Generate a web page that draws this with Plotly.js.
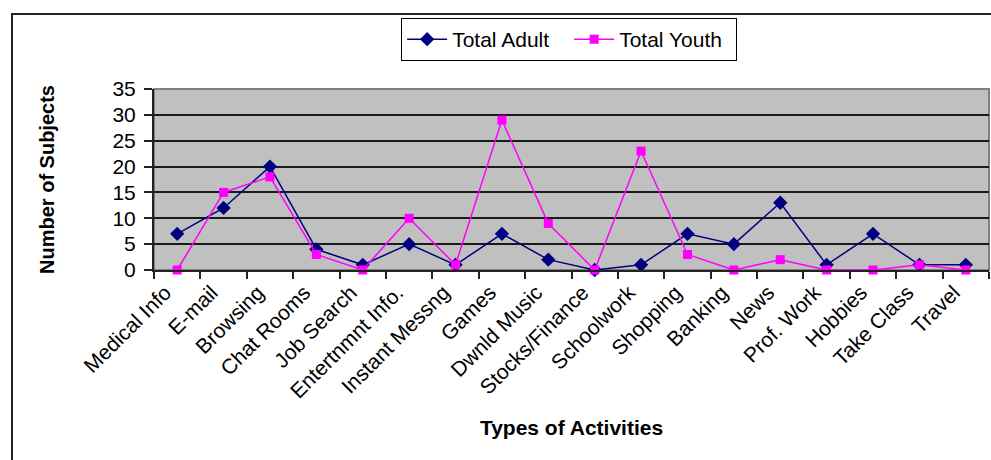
<!DOCTYPE html>
<html>
<head>
<meta charset="utf-8">
<script src="https://cdn.plot.ly/plotly-3.0.1.min.js"></script>
<style>
  html, body { margin:0; padding:0; background:#fff; }
  #wrap { position:relative; width:991px; height:460px; overflow:hidden; }
  #chart { position:absolute; left:0; top:0; width:991px; height:460px; }
  #frame { position:absolute; left:11px; top:13px; width:1000px; height:500px;
           border-left:2px solid #222; border-top:2px solid #222; pointer-events:none; }
</style>
</head>
<body>
<div id="wrap">
  <div id="chart"></div>
  <div id="frame"></div>
</div>
<script>
const categories = ["Medical Info","E-mail","Browsing","Chat Rooms","Job Search","Entertnmnt Info.",
  "Instant Messng","Games","Dwnld Music","Stocks/Finance","Schoolwork","Shopping","Banking",
  "News","Prof. Work","Hobbies","Take Class","Travel"];
const totalAdult = [7,12,20,4,1,5,1,7,2,0,1,7,5,13,1,7,1,1];
const totalYouth = [0,15,18,3,0,10,1,29,9,0,23,3,0,2,0,0,1,0];
const yTicks = [0,5,10,15,20,25,30,35];

const font = "Liberation Sans, Arial, sans-serif";

const traces = [
  { x: categories, y: totalAdult, name: "Total Adult", type: "scatter", mode: "lines+markers",
    line: { color: "#000080", width: 1.5 },
    marker: { symbol: "diamond", size: 11, color: "#000080" }, cliponaxis: false },
  { x: categories, y: totalYouth, name: "Total Youth", type: "scatter", mode: "lines+markers",
    line: { color: "#FF00FF", width: 1.5 },
    marker: { symbol: "square", size: 9, color: "#FF00FF" }, cliponaxis: false }
];

const layout = {
  width: 991, height: 460,
  margin: { l: 154, r: 2, t: 89, b: 190 },
  paper_bgcolor: "#ffffff",
  plot_bgcolor: "#C0C0C0",
  font: { family: font, color: "#000", size: 21 },
  showlegend: true,
  legend: {
    orientation: "h", x: 0.296, xanchor: "left", y: 1.392, yanchor: "top",
    bgcolor: "#ffffff", bordercolor: "#000", borderwidth: 1,
    font: { family: font, size: 21, color: "#000" },
    entrywidth: 112, entrywidthmode: "pixels",
    itemwidth: 40
  },
  xaxis: {
    type: "category",
    range: [-0.5, categories.length - 0.5],
    tickangle: -45,
    tickson: "boundaries",
    ticks: "outside", ticklen: 7, tickwidth: 2, tickcolor: "#222",
    showline: true, linecolor: "#222", linewidth: 2,
    showgrid: false, zeroline: false,
    tickfont: { family: font, size: 21, color: "#000" },
    ticklabelshift: -12,
    title: { text: "Types of Activities", font: { family: font, size: 21, color: "#000", weight: "bold" }, standoff: 19 },
    automargin: false
  },
  yaxis: {
    range: [0, 35],
    tickvals: yTicks,
    ticks: "outside", ticklen: 8, tickwidth: 2, tickcolor: "#222",
    showline: true, linecolor: "#222", linewidth: 2,
    showgrid: true, gridcolor: "#1a1a1a", gridwidth: 2,
    zeroline: false,
    tickfont: { family: font, size: 21, color: "#000" },
    ticklabelstandoff: 4,
    title: { text: "Number of Subjects", font: { family: font, size: 20, color: "#000", weight: "bold" }, standoff: 52 },
    automargin: false
  },
  shapes: [
    { type: "rect", xref: "paper", yref: "paper", x0: 0, x1: 1, y0: 0, y1: 1,
      line: { color: "#808080", width: 2 }, layer: "below" }
  ]
};

Plotly.newPlot("chart", traces, layout, { displayModeBar: false, staticPlot: true });
</script>
</body>
</html>
